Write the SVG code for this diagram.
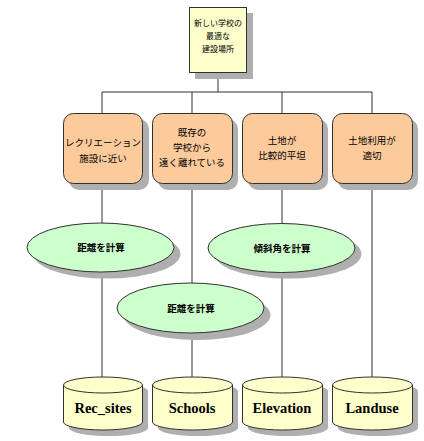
<svg xmlns="http://www.w3.org/2000/svg" width="424" height="441" viewBox="0 0 424 441">
<style>
.bg{fill:#ffffff}
.sh{fill:#afafaf;stroke:none}
.top{fill:#ffffcc;stroke:#303030;stroke-width:1}
.box{fill:#fdcb9b;stroke:#303030;stroke-width:1}
.ell{fill:#ccffcc;stroke:#303030;stroke-width:1}
.cyl{fill:#ffffcc;stroke:#303030;stroke-width:1}
.ln{stroke:#303030;stroke-width:1;fill:none}
.jt{font-family:"Noto Sans CJK JP","Noto Sans",sans-serif;font-size:8px;fill:#000;text-anchor:middle}
.jp{font-family:"Noto Sans CJK JP","Noto Sans",sans-serif;font-size:9.5px;fill:#000;text-anchor:middle}
.jb{font-family:"Noto Sans CJK JP","Noto Sans",sans-serif;font-size:9.5px;font-weight:bold;fill:#000;text-anchor:middle}
.en{font-family:"Liberation Serif",serif;font-size:14.5px;font-weight:bold;fill:#000;text-anchor:middle}
</style>
<rect class="bg" x="0" y="0" width="424" height="441"/>
<g id="connectors">
<path class="ln" d="M218 72 V92 M102 92 H372 M102 92 V113 M192 92 V113 M282 92 V113 M372 92 V113"/>
<path class="ln" d="M102 183 V223 M192 183 V283 M282 183 V224 M372 183 V377"/>
<path class="ln" d="M102 272 V377 M192 333 V377 M282 272 V377"/>
</g>
<g id="goal">
<rect class="sh" x="195" y="13" width="58" height="66"/>
<rect class="top" x="189.5" y="7.5" width="57" height="65"/>
<text class="jt" x="218" y="26">新しい学校の</text>
<text class="jt" x="218" y="39">最適な</text>
<text class="jt" x="218" y="52">建設場所</text>
</g>
<g id="c1">
<rect class="sh" x="69" y="119" width="80" height="71" rx="10"/>
<rect class="box" x="63.5" y="113.5" width="79" height="70" rx="10"/>
<text class="jp" x="103" y="146">レクリエーション</text>
<text class="jp" x="103" y="162">施設に近い</text>
</g>
<g id="c2">
<rect class="sh" x="158" y="119" width="80" height="71" rx="10"/>
<rect class="box" x="152.5" y="113.5" width="80" height="70" rx="10"/>
<text class="jp" x="192" y="136">既存の</text>
<text class="jp" x="192" y="151">学校から</text>
<text class="jp" x="192" y="166">遠く離れている</text>
</g>
<g id="c3">
<rect class="sh" x="248" y="119" width="80" height="71" rx="10"/>
<rect class="box" x="242.5" y="113.5" width="80" height="70" rx="10"/>
<text class="jp" x="282" y="144">土地が</text>
<text class="jp" x="282" y="159">比較的平坦</text>
</g>
<g id="c4">
<rect class="sh" x="338" y="119" width="80" height="71" rx="10"/>
<rect class="box" x="332.5" y="113.5" width="80" height="70" rx="10"/>
<text class="jp" x="372" y="144">土地利用が</text>
<text class="jp" x="372" y="159">適切</text>
</g>
<g id="e1">
<ellipse class="sh" cx="107" cy="254" rx="73.5" ry="24.5"/>
<ellipse class="ell" cx="100.5" cy="247.5" rx="73.5" ry="24.5"/>
<text class="jb" x="101" y="251">距離を計算</text>
</g>
<g id="e2">
<ellipse class="sh" cx="288" cy="254" rx="73.5" ry="24.5"/>
<ellipse class="ell" cx="281.5" cy="248" rx="73.5" ry="24.5"/>
<text class="jb" x="282" y="252">傾斜角を計算</text>
</g>
<g id="e3">
<ellipse class="sh" cx="197" cy="315" rx="73.5" ry="25"/>
<ellipse class="ell" cx="190.5" cy="308" rx="73.5" ry="25"/>
<text class="jb" x="191" y="312">距離を計算</text>
</g>
<g id="d1">
<path class="sh" d="M69 391 A39.5 8 0 0 1 148 391 V428 A39.5 8 0 0 1 69 428 Z"/>
<path class="cyl" d="M63.5 385 A39.5 8 0 0 1 142.5 385 V422 A39.5 8 0 0 1 63.5 422 Z"/>
<path class="ln" d="M63.5 385 A39.5 8 0 0 0 142.5 385"/>
<text class="en" x="103" y="413">Rec_sites</text>
</g>
<g id="d2">
<path class="sh" d="M158 391 A40 8 0 0 1 238 391 V428 A40 8 0 0 1 158 428 Z"/>
<path class="cyl" d="M152.5 385 A40 8 0 0 1 232.5 385 V422 A40 8 0 0 1 152.5 422 Z"/>
<path class="ln" d="M152.5 385 A40 8 0 0 0 232.5 385"/>
<text class="en" x="192" y="413">Schools</text>
</g>
<g id="d3">
<path class="sh" d="M248 391 A40 8 0 0 1 328 391 V428 A40 8 0 0 1 248 428 Z"/>
<path class="cyl" d="M242.5 385 A40 8 0 0 1 322.5 385 V422 A40 8 0 0 1 242.5 422 Z"/>
<path class="ln" d="M242.5 385 A40 8 0 0 0 322.5 385"/>
<text class="en" x="282" y="413">Elevation</text>
</g>
<g id="d4">
<path class="sh" d="M338 391 A40 8 0 0 1 418 391 V428 A40 8 0 0 1 338 428 Z"/>
<path class="cyl" d="M332.5 385 A40 8 0 0 1 412.5 385 V422 A40 8 0 0 1 332.5 422 Z"/>
<path class="ln" d="M332.5 385 A40 8 0 0 0 412.5 385"/>
<text class="en" x="372" y="413">Landuse</text>
</g>
</svg>
